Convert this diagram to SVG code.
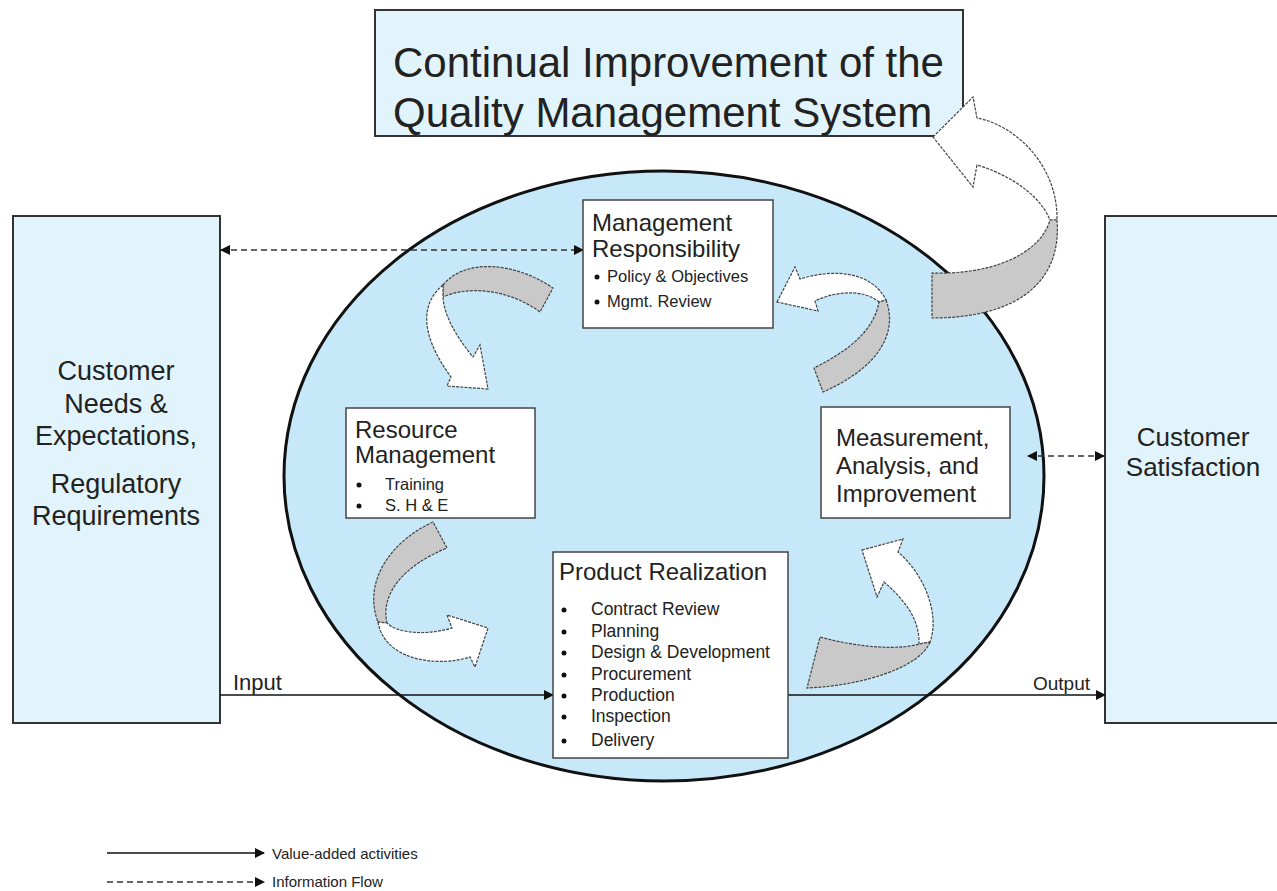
<svg xmlns="http://www.w3.org/2000/svg" width="1277" height="891" viewBox="0 0 1277 891">
<style>
text{font-family:"Liberation Sans",Arial,sans-serif;fill:#222}
.outer{fill:#e2f4fb;stroke:#333;stroke-width:2}
.node{fill:#fff;stroke:#444;stroke-width:1.5}
.gray{fill:#c9c9c9;stroke:#444;stroke-width:1.2;stroke-dasharray:3 1.2}
.white{fill:#fff;stroke:#444;stroke-width:1.2;stroke-dasharray:3 1.2}
.solid{stroke:#111;stroke-width:1.6;fill:none}
.dash{stroke:#333;stroke-width:1.6;fill:none;stroke-dasharray:6 4}
.h{font-size:24px}
.b{font-size:16.5px}
</style>
<defs>
<marker id="ah" markerWidth="10" markerHeight="10" refX="9" refY="5" orient="auto-start-reverse" markerUnits="userSpaceOnUse">
<path d="M0,0 L10,5 L0,10 Z" fill="#111"/>
</marker>
</defs>
<rect width="1277" height="891" fill="#fff"/>

<g id="ellipse">
<ellipse cx="664" cy="476" rx="380" ry="305" fill="#c7e8f9" stroke="#111" stroke-width="3"/>
</g>

<g id="title">
<rect x="375" y="10" width="588" height="126" class="outer"/>
<text x="393" y="77" style="font-size:42px">Continual Improvement of the</text>
<text x="393" y="127" style="font-size:42px">Quality Management System</text>
</g>

<g id="customer-needs">
<rect x="13" y="216" width="207" height="507" class="outer"/>
<text text-anchor="middle" style="font-size:27px"><tspan x="116" y="380">Customer</tspan><tspan x="116" y="413">Needs &amp;</tspan><tspan x="116" y="445">Expectations,</tspan><tspan x="116" y="493">Regulatory</tspan><tspan x="116" y="525">Requirements</tspan></text>
</g>

<g id="customer-satisfaction">
<rect x="1105" y="216" width="180" height="507" class="outer"/>
<text text-anchor="middle" style="font-size:26px"><tspan x="1193" y="446">Customer</tspan><tspan x="1193" y="476">Satisfaction</tspan></text>
</g>

<g id="arrows-curved">
<path class="gray" d="M443,285 C465,258 515,262 553,288 L540,312 C510,290 470,285 443,297 Z"/>
<path class="white" d="M443,285 C422,302 418,332 451,377 L447,386 L488,389 L480,345 L473,357 C455,335 444,315 443,297 Z"/>
<path class="white" d="M777,302 L795,267 L800,279 C835,268 872,272 886,300 L879,302 C865,290 838,290 815,301 L818,311 Z"/>
<path class="gray" d="M886,300 C898,332 880,367 823,392 L814,368 C850,350 874,330 879,302 Z"/>
<path class="gray" d="M433,522 C393,540 362,580 378,622 L387,623 C380,593 405,565 447,548 Z"/>
<path class="white" d="M378,622 C385,662 440,667 470,657 L475,667 L488,628 L447,615 L452,628 C425,636 397,633 387,623 Z"/>
<path class="white" d="M862,550 L903,539 L898,552 C925,575 940,615 930,642 L919,644 C920,620 905,600 884,582 L877,597 Z"/>
<path class="gray" d="M930,642 C920,668 860,686 807,688 L820,637 C860,648 900,650 919,644 Z"/>
<path class="white" d="M933,137 L973,97 L977,118 C1015,125 1058,165 1057,220 L1050,220 C1040,195 1010,175 977,165 L973,187 Z"/>
<path class="gray" d="M1057,220 C1062,280 1020,318 932,318 L932,273 C990,275 1040,255 1050,220 Z"/>
</g>

<g id="connectors">
<line x1="221" y1="250" x2="583" y2="250" class="dash" marker-start="url(#ah)" marker-end="url(#ah)"/>
<line x1="1028" y1="456" x2="1104" y2="456" class="dash" marker-start="url(#ah)" marker-end="url(#ah)"/>
<line x1="220" y1="695" x2="553" y2="695" class="solid" marker-end="url(#ah)"/>
<line x1="788" y1="695" x2="1105" y2="695" class="solid" marker-end="url(#ah)"/>
<text x="233" y="690" style="font-size:22px">Input</text>
<text x="1033" y="690" style="font-size:19px">Output</text>
</g>

<g id="management-responsibility">
<rect x="583" y="200" width="190" height="128" class="node"/>
<text x="592" y="231" class="h">Management</text>
<text x="592" y="257" class="h">Responsibility</text>
<circle cx="597" cy="277" r="2.5" fill="#111"/>
<text x="607" y="282" class="b">Policy &amp; Objectives</text>
<circle cx="597" cy="302" r="2.5" fill="#111"/>
<text x="607" y="307" class="b">Mgmt. Review</text>
</g>

<g id="resource-management">
<rect x="346" y="408" width="189" height="110" class="node"/>
<text x="355" y="438" class="h">Resource</text>
<text x="355" y="463" class="h">Management</text>
<circle cx="359" cy="485" r="2.5" fill="#111"/>
<text x="385" y="490" class="b">Training</text>
<circle cx="359" cy="506" r="2.5" fill="#111"/>
<text x="385" y="511" class="b">S. H &amp; E</text>
</g>

<g id="measurement">
<rect x="821" y="407" width="189" height="111" class="node"/>
<text x="836" y="446" class="h">Measurement,</text>
<text x="836" y="474" class="h">Analysis, and</text>
<text x="836" y="502" class="h">Improvement</text>
</g>

<g id="product-realization">
<rect x="553" y="552" width="235" height="206" class="node"/>
<text x="559" y="580" class="h">Product Realization</text>
<g style="font-size:17.5px">
<circle cx="564" cy="610" r="2.5" fill="#111"/><text x="591" y="615">Contract Review</text>
<circle cx="564" cy="632" r="2.5" fill="#111"/><text x="591" y="637">Planning</text>
<circle cx="564" cy="653" r="2.5" fill="#111"/><text x="591" y="658">Design &amp; Development</text>
<circle cx="564" cy="675" r="2.5" fill="#111"/><text x="591" y="680">Procurement</text>
<circle cx="564" cy="696" r="2.5" fill="#111"/><text x="591" y="701">Production</text>
<circle cx="564" cy="717" r="2.5" fill="#111"/><text x="591" y="722">Inspection</text>
<circle cx="564" cy="741" r="2.5" fill="#111"/><text x="591" y="746">Delivery</text>
</g>
</g>

<g id="legend">
<line x1="107" y1="853" x2="264" y2="853" class="solid" marker-end="url(#ah)"/>
<line x1="107" y1="882" x2="264" y2="882" class="dash" stroke-dasharray="5 3" marker-end="url(#ah)"/>
<text x="272" y="859" style="font-size:15px">Value-added activities</text>
<text x="272" y="887" style="font-size:15px">Information Flow</text>
</g>
</svg>
